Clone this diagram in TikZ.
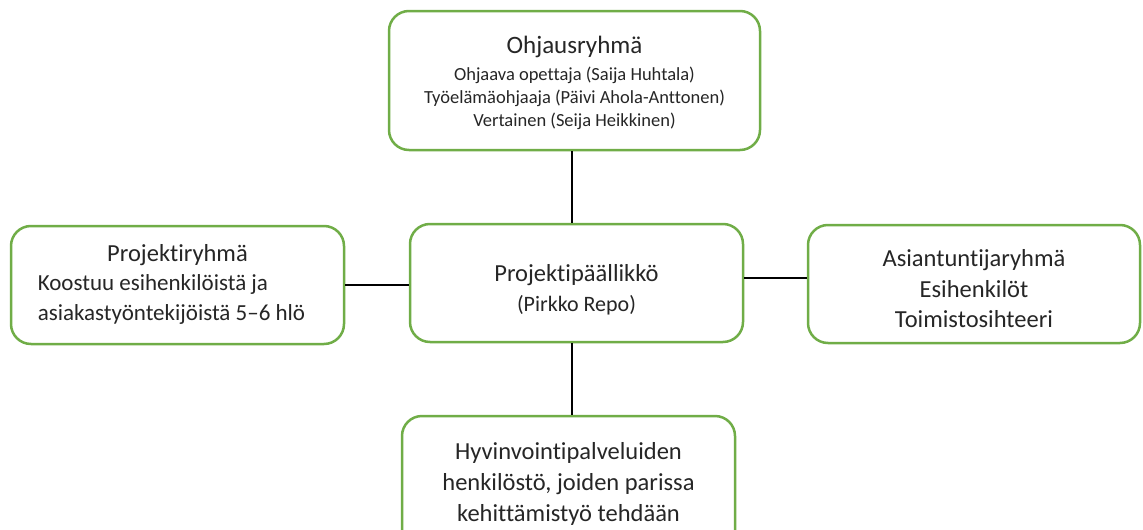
\documentclass[tikz,border=0pt]{standalone}
\usepackage{fontspec}
\setmainfont{Carlito}[Ligatures=NoCommon]
\definecolor{boxgreen}{RGB}{112,173,71}
\definecolor{textgray}{RGB}{38,38,38}

\newcommand{\bigtxt}{\fontsize{24.5}{30.5}\selectfont}
\newcommand{\smalltxt}{\fontsize{18.5}{23}\selectfont}
\tikzset{
  orgbox/.style={draw=boxgreen, line width=2.5pt, rounded corners=20pt,
    fill=white, text=textgray, align=center, inner sep=0pt, font=\bigtxt},
  link/.style={line width=2pt, black},
}

\begin{document}
\begin{tikzpicture}[x=1pt,y=-1pt]
        \useasboundingbox (0,0) rectangle (1143,530);

        % boxes
        \node[orgbox, minimum width=371pt, minimum height=139pt, font=\smalltxt] (ohjaus)
          at (574.5,80.5) {\\[-1pt]{\fontsize{25}{30}\selectfont Ohjausryhmä}\\[4pt]
          Ohjaava opettaja (Saija Huhtala)\\
          Työelämäohjaaja (Päivi Ahola-Anttonen)\\
          Vertainen (Seija Heikkinen)};
        \node[orgbox, minimum width=333pt, minimum height=118pt] (pp)
          at (576.5,283) {\\[0.5pt]Projektipäällikkö\\[-0.5pt]
          {\fontsize{22}{26}\selectfont (Pirkko Repo)}};
        \node[orgbox, minimum width=333pt, minimum height=118pt,
          font=\fontsize{23}{29.5}\selectfont] (projryhma)
          at (177.5,285) {\begin{tabular}{@{}l@{\hspace{12pt}}}
          \multicolumn{1}{@{}c@{}}{\fontsize{24.5}{29.5}\selectfont Projektiryhmä}\\
          Koostuu esihenkilöistä ja\\
          asiakastyöntekijöistä 5–6 hlö\end{tabular}};
        \node[orgbox, minimum width=332pt, minimum height=118pt] (asiant)
          at (974,284) {\\[-3.5pt]Asiantuntijaryhmä\\ Esihenkilöt\\ Toimistosihteeri};
        \node[orgbox, minimum width=333pt, minimum height=136pt,
          font=\fontsize{24.5}{31}\selectfont] (hyv)
          at (568.5,484) {Hyvinvointipalveluiden\\ henkilöstö, joiden parissa\\
          kehittämistyö tehdään};

        % connectors
        \draw[link] ([xshift=-2.5pt]ohjaus.south) -- ([xshift=-2.5pt]ohjaus.south |- pp.north);
        \draw[link] (projryhma.east) -- (projryhma.east -| pp.west);
        \draw[link] ([yshift=5pt]pp.east) -- ([yshift=5pt]pp.east -| asiant.west);
        \draw[link] ([xshift=-4.5pt]pp.south) -- ([xshift=-4.5pt]pp.south |- hyv.north);
      \end{tikzpicture}
\end{document}
